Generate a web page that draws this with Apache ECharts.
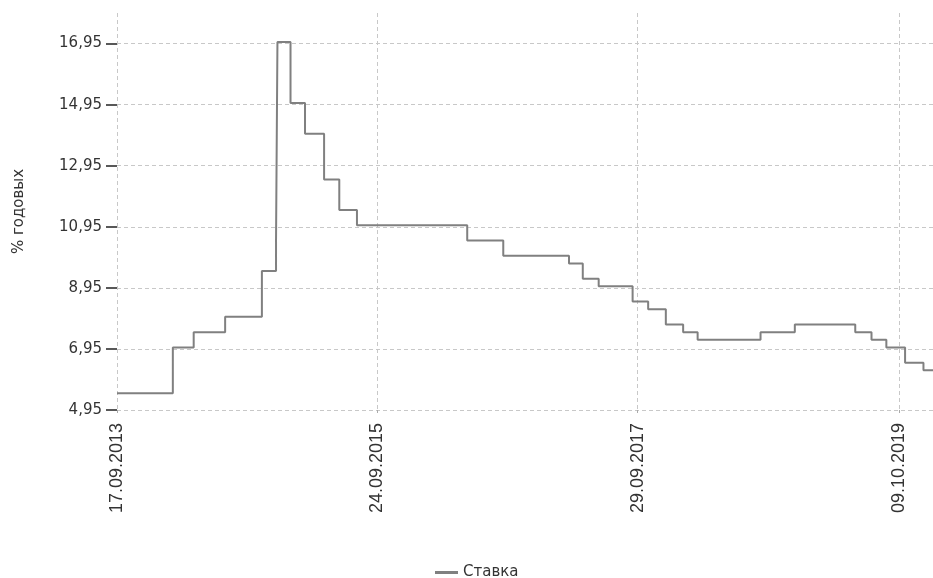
<!DOCTYPE html>
<html>
<head>
<meta charset="utf-8">
<script src="https://cdn.jsdelivr.net/npm/echarts@6/dist/echarts.min.js"></script>
<style>
html,body{margin:0;padding:0;background:#fff;}
#chart{width:933px;height:578px;}
</style>
</head>
<body>
<div id="chart"></div>
<script>
// Rate change dates and values (% годовых)
var rateDates = ['2013-09-17','2014-02-22','2014-04-22','2014-07-20','2014-11-01','2014-12-11','2014-12-15',
  '2015-01-21','2015-03-03','2015-04-26','2015-06-08','2015-07-28','2016-06-04','2016-09-14',
  '2017-03-19','2017-04-27','2017-06-11','2017-09-15','2017-10-29','2017-12-18','2018-02-05',
  '2018-03-18','2018-09-12','2018-12-18','2019-06-07','2019-07-23','2019-09-03','2019-10-26',
  '2019-12-17','2020-01-13'];
var rateValues = [5.5,7.0,7.5,8.0,9.5,10.5,17.0,
  15.0,14.0,12.5,11.5,11.0,10.5,10.0,
  9.75,9.25,9.0,8.5,8.25,7.75,7.5,
  7.25,7.5,7.75,7.5,7.25,7.0,6.5,
  6.25,6.25];
var xTickDates = ['2013-09-17','2015-09-24','2017-09-29','2019-10-09'];
var xTickLabels = ['17.09.2013','24.09.2015','29.09.2017','09.10.2019'];
var yTicks = [4.95,6.95,8.95,10.95,12.95,14.95,16.95];
var seriesName = 'Ставка';
var yAxisName = '% годовых';

function ts(s){var p=s.split('-');return Date.UTC(+p[0],+p[1]-1,+p[2]);}
var data = rateDates.map(function(d,i){return [ts(d), rateValues[i]];});
var xTickTs = xTickDates.map(ts);

var chart = echarts.init(document.getElementById('chart'));
chart.setOption({
  animation:false,
  textStyle:{fontFamily:'DejaVu Sans'},
  grid:{left:117,right:0,top:13,bottom:168,containLabel:false},
  legend:{
    data:[seriesName], bottom:-7, left:430,
    icon:'rect', itemWidth:23, itemHeight:3, itemGap:10,
    textStyle:{fontFamily:'DejaVu Sans', fontSize:15, color:'#333'}
  },
  xAxis:{
    type:'value', min:ts('2013-09-17'), max:ts('2020-01-13'),
    axisLine:{show:false},
    axisTick:{show:true, customValues:xTickTs, length:3, lineStyle:{color:'#aaa'}},
    splitLine:{show:true, lineStyle:{type:[4,3], color:'#c8c8c8', width:1}},
    axisLabel:{
      customValues:xTickTs, rotate:90, margin:13,
      fontFamily:'Liberation Sans', fontSize:18, color:'#333',
      formatter:function(v){
        var best=0;for(var i=0;i<xTickTs.length;i++){if(Math.abs(xTickTs[i]-v)<Math.abs(xTickTs[best]-v))best=i;}
        return xTickLabels[best];
      }
    }
  },
  yAxis:{
    type:'value', min:4.95, max:17.95,
    name:yAxisName, nameLocation:'middle', nameGap:90, nameRotate:90,
    nameTextStyle:{fontFamily:'DejaVu Sans', fontSize:15, color:'#333'},
    axisLine:{show:false},
    axisTick:{show:true, customValues:yTicks, length:11, lineStyle:{color:'#222', width:1.5}},
    splitLine:{show:true, lineStyle:{type:[4,3], color:'#c8c8c8', width:1}},
    axisLabel:{
      customValues:yTicks, margin:15, fontFamily:'DejaVu Sans', fontSize:15, color:'#333',
      formatter:function(v){return v.toFixed(2).replace('.',',');}
    }
  },
  series:[{
    name:seriesName, type:'line', step:'end', data:data,
    showSymbol:false, symbol:'none',
    lineStyle:{color:'#808080', width:2},
    itemStyle:{color:'#808080'}
  }]
});
</script>
</body>
</html>
